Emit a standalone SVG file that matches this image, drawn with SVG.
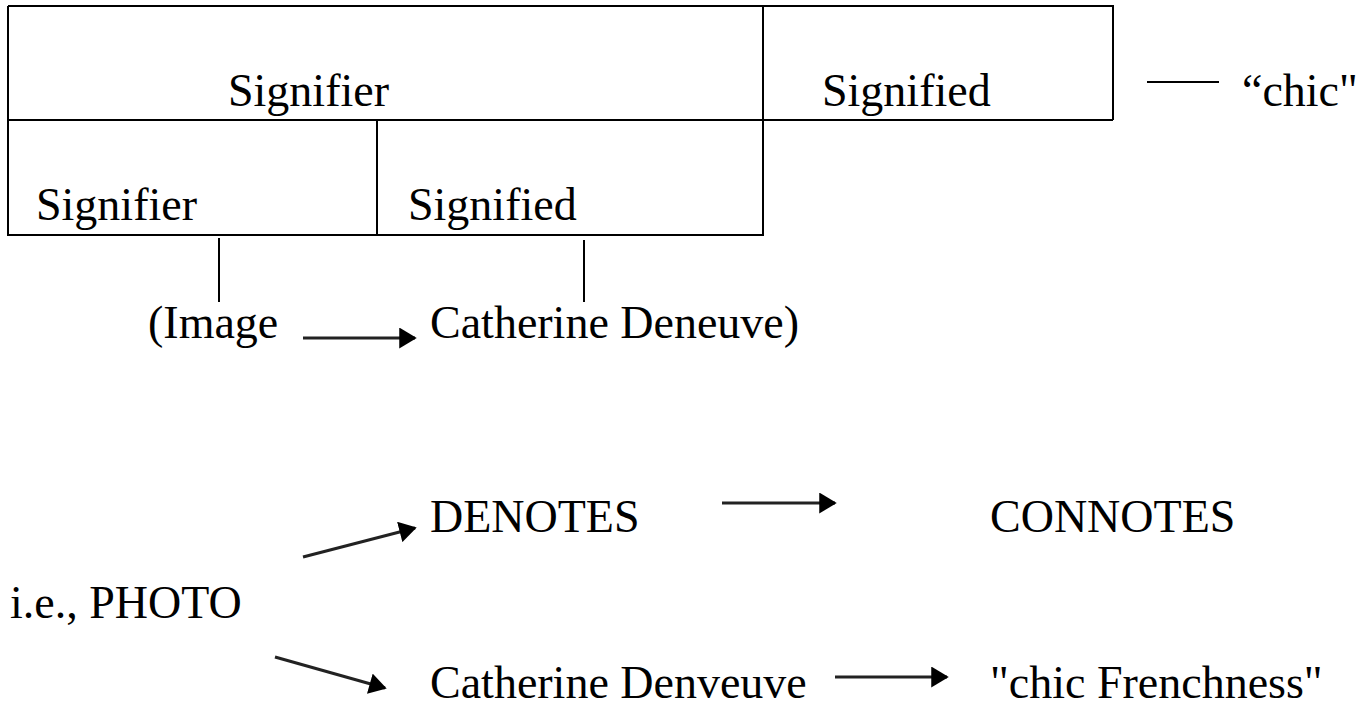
<svg xmlns="http://www.w3.org/2000/svg" width="1364" height="706" viewBox="0 0 1364 706">
<defs>
<style>
.t{font-family:"Liberation Serif","Times New Roman",serif;font-size:46px;fill:#000}
.b{stroke:#000;stroke-width:2;fill:none}
.c{stroke:#222;stroke-width:3;fill:none}
</style>
<marker id="ah" viewBox="0 0 10 12" refX="9" refY="6" markerWidth="6" markerHeight="7" markerUnits="strokeWidth" orient="auto">
<path d="M0,0 L10,6 L0,12 Z" fill="#000"/>
</marker>
</defs>
<rect width="1364" height="706" fill="#fff"/>
<g id="box-upper">
<path class="b" d="M8,6 H1113 V120 M8,120 H1113 M8,6 V236 M763,6 V236"/>
<text class="t" x="228" y="106">Signifier</text>
<text class="t" x="822" y="106">Signified</text>
</g>
<g id="box-lower">
<path class="b" d="M8,235 H763 M377,120 V236"/>
<text class="t" x="36" y="220">Signifier</text>
<text class="t" x="408" y="220">Signified</text>
</g>
<g id="chic"><text class="t" x="1242" y="106">“chic"</text></g>
<g id="image"><text class="t" x="148" y="338">(Image</text></g>
<g id="deneuve"><text class="t" x="430" y="338">Catherine Deneuve)</text></g>
<g id="photo"><text class="t" x="10" y="618">i.e., PHOTO</text></g>
<g id="denotes"><text class="t" x="430" y="532">DENOTES</text></g>
<g id="connotes"><text class="t" x="990" y="532">CONNOTES</text></g>
<g id="denveuve"><text class="t" x="430" y="698">Catherine Denveuve</text></g>
<g id="frenchness"><text class="t" x="990" y="698">"chic Frenchness"</text></g>
<g id="connectors">
<path class="b" d="M1147,82 H1219 M219,238 V302 M584,240 V302"/>
<path class="c" d="M303,338 H415" marker-end="url(#ah)"/>
<path class="c" d="M303,557 L415,528" marker-end="url(#ah)"/>
<path class="c" d="M722,503 H835" marker-end="url(#ah)"/>
<path class="c" d="M275,657 L385,688" marker-end="url(#ah)"/>
<path class="c" d="M835,677 H947" marker-end="url(#ah)"/>
</g>
</svg>
